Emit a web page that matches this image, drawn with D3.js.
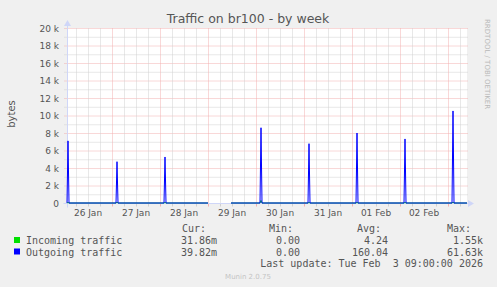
<!DOCTYPE html>
<html>
<head>
<meta charset="utf-8">
<script src="https://cdn.jsdelivr.net/npm/d3@7"></script>
<style>
  html, body { margin: 0; padding: 0; background: #f0f0f0; }
  svg { display: block; }
  text { font-family: "DejaVu Sans", sans-serif; }
  .mono { font-family: "DejaVu Sans Mono", monospace; }
</style>
</head>
<body>
<script>
  var width = 497, height = 287;
  var plotLeft = 67, plotRight = 467, plotTop = 28, plotBottom = 203;

  // time window of the week graph
  var timeStart = "2026-01-26T01:30:00", timeEnd = "2026-02-03T09:30:00";
  var dayLabels = ["26 Jan", "27 Jan", "28 Jan", "29 Jan", "30 Jan", "31 Jan", "01 Feb", "02 Feb"];
  var yTicks = [0, 2000, 4000, 6000, 8000, 10000, 12000, 14000, 16000, 18000, 20000];
  var yTickLabels = ["0", "2 k", "4 k", "6 k", "8 k", "10 k", "12 k", "14 k", "16 k", "18 k", "20 k"];

  // samples (30 min bins), null = no data
  var times = [
    "2026-01-26T01:30", "2026-01-26T02:00", "2026-01-26T02:30",
    "2026-01-27T02:00", "2026-01-27T02:30", "2026-01-27T03:00",
    "2026-01-28T02:00", "2026-01-28T02:30", "2026-01-28T03:00",
    "2026-01-29T00:00", "2026-01-29T00:30", "2026-01-29T11:30",
    "2026-01-30T02:00", "2026-01-30T02:30", "2026-01-30T03:00",
    "2026-01-31T02:00", "2026-01-31T02:30", "2026-01-31T03:00",
    "2026-02-01T02:00", "2026-02-01T02:30", "2026-02-01T03:00",
    "2026-02-02T02:00", "2026-02-02T02:30", "2026-02-02T03:00",
    "2026-02-03T02:00", "2026-02-03T02:30", "2026-02-03T03:00",
    "2026-02-03T09:30"
  ];
  var incoming = [0, 80, 0, 0, 100, 0, 0, 80, 0, 0, null, 0, 0, 300, 0, 0, 80, 0, 0, 80, 0, 0, 80, 0, 0, 100, 0, 0];
  var outgoing = [0, 7100, 0, 0, 4720, 0, 0, 5260, 0, 0, null, 0, 0, 8600, 0, 0, 6780, 0, 0, 8000, 0, 0, 7320, 0, 0, 10520, 0, 0];

  var legendNames = ["Incoming traffic", "Outgoing traffic"];
  var legendColors = ["#00e000", "#0000ff"];
  var legendCur = ["31.86m", "39.82m"];
  var legendMin = ["0.00", "0.00"];
  var legendAvg = ["4.24", "160.04"];
  var legendMax = ["1.55k", "61.63k"];

  var parse = d3.timeParse("%Y-%m-%dT%H:%M");
  var parseFull = d3.timeParse("%Y-%m-%dT%H:%M:%S");

  var x = d3.scaleTime()
    .domain([parseFull(timeStart), parseFull(timeEnd)])
    .range([plotLeft, plotRight]);
  var y = d3.scaleLinear().domain([0, 20000]).range([plotBottom, plotTop]);

  var svg = d3.select("body").append("svg")
    .attr("width", width)
    .attr("height", height);

  svg.append("rect").attr("width", width).attr("height", height).attr("fill", "#f0f0f0");
  svg.append("rect")
    .attr("x", plotLeft).attr("y", plotTop)
    .attr("width", plotRight - plotLeft).attr("height", plotBottom - plotTop)
    .attr("fill", "#ffffff");

  var grid = svg.append("g").attr("transform", "translate(0.5,0.5)");
  var majorColor = "#f2b0b0", minorColor = "#d0d0d0";

  // horizontal grid: minor every 1k, major on labelled ticks
  d3.range(1000, 20001, 1000).forEach(function(v) {
    var major = v % 2000 == 0;
    grid.append("line")
      .attr("x1", plotLeft - 3).attr("x2", plotRight)
      .attr("y1", y(v)).attr("y2", y(v))
      .attr("stroke", major ? majorColor : minorColor)
      .attr("stroke-dasharray", "1,1");
  });

  // vertical grid: minor every 6h, major at midnight
  var t0 = parseFull(timeStart), t1 = parseFull(timeEnd);
  d3.timeHour.every(6).range(t0, t1).forEach(function(t) {
    var major = t.getHours() == 0;
    var xx = Math.round(x(t));
    if (xx <= plotLeft) return;
    grid.append("line")
      .attr("x1", xx).attr("x2", xx)
      .attr("y1", plotTop).attr("y2", plotBottom)
      .attr("stroke", major ? majorColor : minorColor)
      .attr("stroke-dasharray", "1,1");
    grid.append("line")
      .attr("x1", xx).attr("x2", xx)
      .attr("y1", plotBottom).attr("y2", plotBottom + 3)
      .attr("stroke", major ? majorColor : minorColor);
  });

  // axes
  var axisColor = "#cfd6f8";
  grid.append("line")
    .attr("x1", plotLeft - 4).attr("x2", plotRight + 2)
    .attr("y1", plotBottom).attr("y2", plotBottom)
    .attr("stroke", axisColor);
  grid.append("line")
    .attr("x1", plotLeft).attr("x2", plotLeft)
    .attr("y1", plotBottom + 4).attr("y2", plotTop - 4)
    .attr("stroke", axisColor);
  svg.append("path")
    .attr("d", "M" + (plotRight + 1) + "," + (plotBottom - 3) + "L" + (plotRight + 7) + "," + (plotBottom + 0.5) + "L" + (plotRight + 1) + "," + (plotBottom + 4) + "Z")
    .attr("fill", axisColor);
  svg.append("path")
    .attr("d", "M" + (plotLeft - 3) + "," + (plotTop - 2) + "L" + (plotLeft + 0.5) + "," + (plotTop - 8) + "L" + (plotLeft + 4) + "," + (plotTop - 2) + "Z")
    .attr("fill", axisColor);

  // data lines
  var rows = times.map(function(t, i) {
    return { t: parse(t), inc: incoming[i], out: outgoing[i] };
  });
  var lineIn = d3.line()
    .defined(function(d) { return d.inc != null; })
    .x(function(d) { return x(d.t); })
    .y(function(d) { return y(d.inc); });
  var lineOut = d3.line()
    .defined(function(d) { return d.out != null; })
    .x(function(d) { return x(d.t); })
    .y(function(d) { return y(d.out); });

  svg.append("path").datum(rows)
    .attr("d", lineIn)
    .attr("fill", "none")
    .attr("stroke", legendColors[0]);
  svg.append("path").datum(rows)
    .attr("d", lineOut)
    .attr("fill", "none")
    .attr("stroke", legendColors[1]);

  // y tick labels
  svg.selectAll(".ylab").data(yTicks).enter().append("text")
    .attr("x", plotLeft - 8)
    .attr("y", function(d) { return y(d) + 3.5; })
    .attr("text-anchor", "end")
    .attr("font-size", "9px")
    .attr("fill", "#555")
    .text(function(d, i) { return yTickLabels[i]; });

  // x day labels, centred at noon
  var noons = d3.timeDay.range(d3.timeDay.floor(t0), t1).map(function(d) { return d3.timeHour.offset(d, 12); });
  svg.selectAll(".xlab").data(noons.slice(0, dayLabels.length)).enter().append("text")
    .attr("x", function(d) { return x(d); })
    .attr("y", 216)
    .attr("text-anchor", "middle")
    .attr("font-size", "9px")
    .attr("fill", "#555")
    .text(function(d, i) { return dayLabels[i]; });

  // title and side texts
  svg.append("text")
    .attr("x", 248).attr("y", 23)
    .attr("text-anchor", "middle")
    .attr("font-size", "12.5px")
    .attr("fill", "#555")
    .text("Traffic on br100 - by week");

  svg.append("text")
    .attr("transform", "translate(15,114) rotate(-90)")
    .attr("text-anchor", "middle")
    .attr("font-size", "10px")
    .attr("fill", "#555")
    .text("bytes");

  svg.append("text")
    .attr("transform", "translate(485,19) rotate(90)")
    .attr("text-anchor", "start")
    .attr("font-size", "7px")
    .attr("fill", "#b8b8b8")
    .text("RRDTOOL / TOBI OETIKER");

  // legend
  var leg = svg.append("g").attr("class", "mono").attr("font-size", "10px").attr("fill", "#555");
  [["Cur:", 182], ["Min:", 269], ["Avg:", 357], ["Max:", 447]].forEach(function(h) {
    leg.append("text").attr("class", "mono").attr("x", h[1]).attr("y", 232).text(h[0]);
  });
  legendNames.forEach(function(name, i) {
    var yy = 244 + i * 11.5;
    svg.append("rect")
      .attr("x", 14).attr("y", yy - 7).attr("width", 6).attr("height", 6)
      .attr("fill", legendColors[i]);
    leg.append("text").attr("class", "mono").attr("x", 26).attr("y", yy).text(name);
    [[legendCur, 217], [legendMin, 300], [legendAvg, 388], [legendMax, 483]].forEach(function(c) {
      leg.append("text").attr("class", "mono")
        .attr("x", c[1]).attr("y", yy)
        .attr("text-anchor", "end")
        .text(c[0][i]);
    });
  });
  leg.append("text").attr("class", "mono")
    .attr("x", 483).attr("y", 267)
    .attr("text-anchor", "end")
    .attr("xml:space", "preserve")
    .style("white-space", "pre")
    .text("Last update: Tue Feb  3 09:00:00 2026");

  svg.append("text")
    .attr("x", 248).attr("y", 279)
    .attr("text-anchor", "middle")
    .attr("font-size", "7px")
    .attr("fill", "#c4c4c4")
    .text("Munin 2.0.75");
</script>
</body>
</html>
